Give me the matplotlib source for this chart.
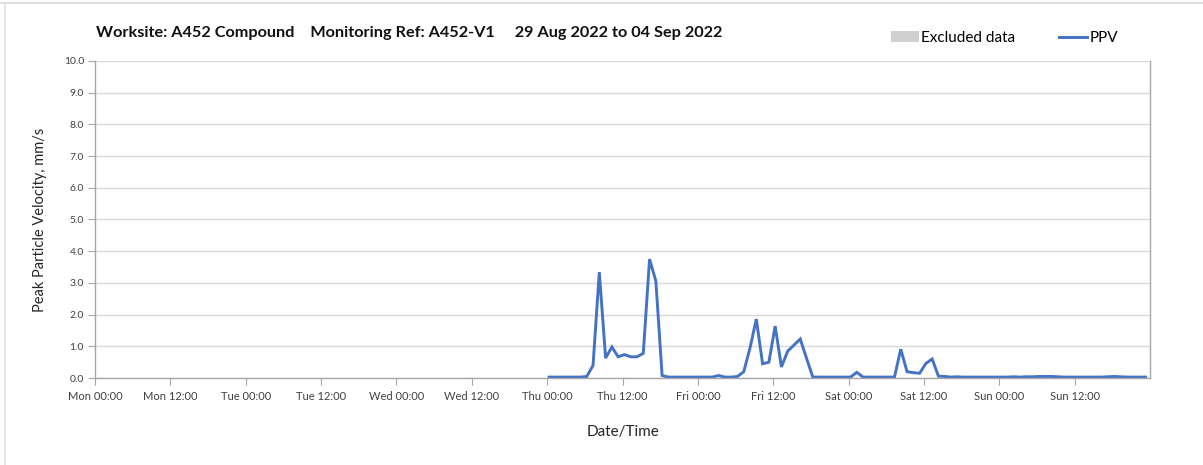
import numpy as np
import matplotlib.pyplot as plt
from matplotlib.ticker import MultipleLocator, FixedLocator
from matplotlib.lines import Line2D
from matplotlib.patches import Patch

plt.rcParams['font.family'] = ['Lato', 'DejaVu Sans']

# ----- data -----
tick_labels = ['Mon 00:00', 'Mon 12:00', 'Tue 00:00', 'Tue 12:00', 'Wed 00:00',
               'Wed 12:00', 'Thu 00:00', 'Thu 12:00', 'Fri 00:00', 'Fri 12:00',
               'Sat 00:00', 'Sat 12:00', 'Sun 00:00', 'Sun 12:00']
start_hour = 72.3   # first reading, Thu ~00:20 (hours after Mon 00:00)

# hourly PPV, mm/s, Thu 00:20 -> Sun 23:20
ppv = [0.03, 0.03, 0.03, 0.03, 0.03, 0.03, 0.05, 0.40, 3.34, 0.63,
       0.98, 0.67, 0.74, 0.67, 0.67, 0.78, 3.75, 3.06, 0.08, 0.03,
       0.03, 0.03, 0.03, 0.03, 0.03, 0.03, 0.03, 0.08, 0.03, 0.03,
       0.05, 0.20, 0.95, 1.86, 0.45, 0.50, 1.64, 0.35, 0.85, 1.04,
       1.23, 0.62, 0.03, 0.03, 0.03, 0.03, 0.03, 0.03, 0.03, 0.18,
       0.03, 0.03, 0.03, 0.03, 0.03, 0.03, 0.91, 0.20, 0.17, 0.15,
       0.46, 0.60, 0.06, 0.05, 0.03, 0.04, 0.03, 0.03, 0.03, 0.03,
       0.03, 0.03, 0.03, 0.03, 0.04, 0.03, 0.04, 0.04, 0.05, 0.05,
       0.05, 0.04, 0.03, 0.03, 0.03, 0.03, 0.03, 0.03, 0.03, 0.04,
       0.05, 0.04, 0.03, 0.03, 0.03, 0.03]
hours = start_hour + np.arange(len(ppv))

# ----- plot -----
fig = plt.figure(figsize=(12.03, 4.65), dpi=100)
ax = fig.add_axes([0.079, 0.187, 0.877, 0.682])

ax.plot(hours, ppv, color='#4472C4', lw=2.1, solid_joinstyle='miter')

ax.set_xlim(0, 168)
ax.set_ylim(0, 10)
ax.set_xticks(np.arange(0, 168, 12))
ax.set_xticklabels(tick_labels)
ax.xaxis.set_minor_locator(FixedLocator(np.arange(24, 168, 24)))
ax.set_yticks(np.arange(0, 10.5, 1))
ax.set_yticklabels([f'{v:.1f}' for v in np.arange(0, 10.5, 1)])

ax.grid(axis='y', which='major', color='#D9D9D9', lw=1.0)
ax.grid(axis='x', which='minor', color='#D9D9D9', lw=1.0)
ax.set_axisbelow(True)

ax.tick_params(axis='x', which='major', length=5, color='#A6A6A6',
               labelsize=8, labelcolor='#404040', pad=4)
ax.tick_params(axis='x', which='minor', length=0)
ax.tick_params(axis='y', length=5, color='#A6A6A6', labelsize=7.5,
               labelcolor='#404040', pad=3)

for s in ['left', 'bottom', 'right']:
    ax.spines[s].set_color('#A6A6A6')
    ax.spines[s].set_linewidth(1.0)
ax.spines['top'].set_visible(False)

ax.set_ylabel('Peak Particle Velocity, mm/s', fontsize=10.5, color='#262626', labelpad=12)
ax.set_xlabel('Date/Time', fontsize=11, color='#262626', labelpad=17)

fig.text(0.080, 0.928, 'Worksite: A452 Compound    Monitoring Ref: A452-V1     '
         '29 Aug 2022 to 04 Sep 2022', fontsize=11.7, fontweight='bold',
         color='#111111', va='center')

handles = [Patch(facecolor='#D0D0D0', edgecolor='none', label='Excluded data'),
           Line2D([0], [0], color='#4472C4', lw=2.1, label='PPV')]
fig.legend(handles=handles, loc='center', bbox_to_anchor=(0.835, 0.918), ncol=2,
           frameon=False, fontsize=11, handlelength=1.8, handletextpad=0.15,
           columnspacing=2.9)

# panel border (top and left edge of the source frame)
fig.add_artist(Line2D([0, 1], [1 - 3 / 465, 1 - 3 / 465], transform=fig.transFigure,
                      color='#D9D9D9', lw=1.2))
fig.add_artist(Line2D([5 / 1203, 5 / 1203], [0, 1 - 3 / 465], transform=fig.transFigure,
                      color='#E0E0E0', lw=1.2))

fig.savefig('out.png', dpi=100)
